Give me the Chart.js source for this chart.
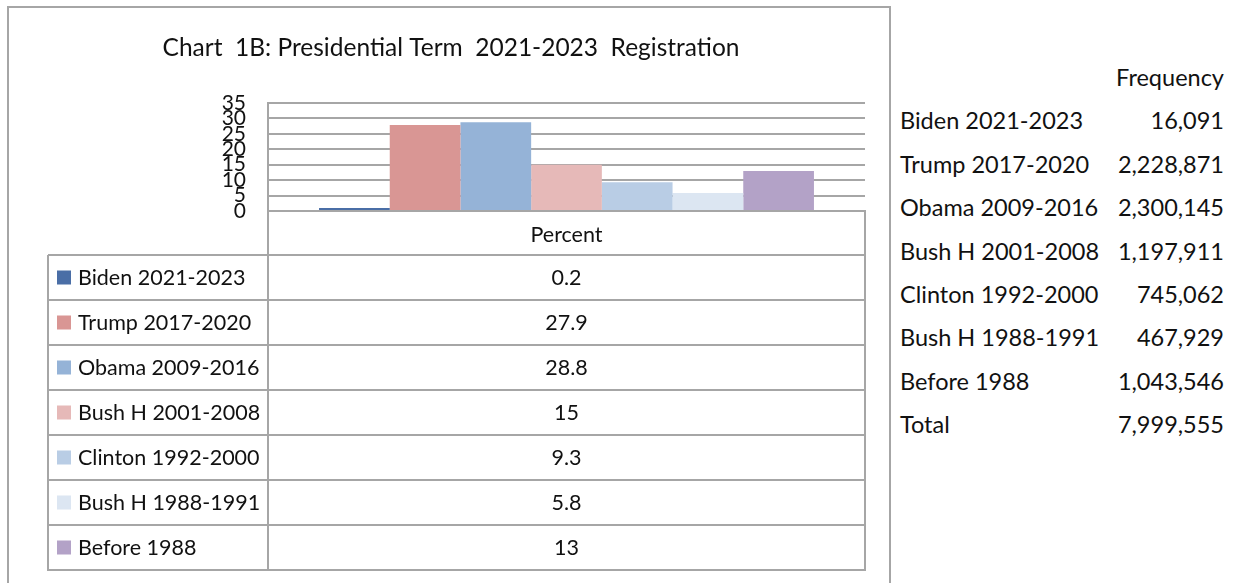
<!DOCTYPE html>
<html>
<head>
<meta charset="utf-8">
<script src="https://cdn.jsdelivr.net/npm/chart.js@4.4.1/dist/chart.umd.min.js"></script>
<style>
  html, body { margin: 0; padding: 0; background: #ffffff; width: 1235px; height: 583px; overflow: hidden; font-family: Lato, "Noto Sans", sans-serif; }
  #frame { position: absolute; left: 7px; top: 6px; width: 884px; height: 640px; border: 2px solid #a6a6a6; box-sizing: border-box; }
  #wrap { position: absolute; left: 0; top: 0; width: 900px; height: 583px; }
  #freq { position: absolute; left: 900px; top: 56px; width: 324px; font-size: 23.5px; color: #111; border-collapse: collapse; }
  #freq td { padding: 0; height: 43.4px; line-height: 43.4px; white-space: nowrap; }
  #freq td.v { text-align: right; }
</style>
</head>
<body>
<div id="frame"></div>
<div id="wrap"><canvas id="c" width="900" height="583"></canvas></div>
<table id="freq"></table>
<script>
// ---- data ----
const titleText = 'Chart  1B: Presidential Term  2021-2023  Registration';
const categories = ['Biden 2021-2023', 'Trump 2017-2020', 'Obama 2009-2016', 'Bush H 2001-2008', 'Clinton 1992-2000', 'Bush H 1988-1991', 'Before 1988'];
const percents = [0.2, 27.9, 28.8, 15, 9.3, 5.8, 13];
const frequencies = ['16,091', '2,228,871', '2,300,145', '1,197,911', '745,062', '467,929', '1,043,546'];
const totalLabel = 'Total';
const totalFrequency = '7,999,555';
const frequencyHeader = 'Frequency';
const xLabels = ['Percent'];
const yMin = 0, yMax = 35, yStep = 5;
const colors = ['#4a6ea6', '#d99694', '#95b3d7', '#e6b9b8', '#b9cde5', '#dce6f2', '#b3a2c7'];

// ---- right-hand frequency table (HTML text) ----
const tbl = document.getElementById('freq');
function addRow(a, b) {
  const tr = document.createElement('tr');
  const t1 = document.createElement('td'); t1.textContent = a;
  const t2 = document.createElement('td'); t2.textContent = b; t2.className = 'v';
  tr.appendChild(t1); tr.appendChild(t2); tbl.appendChild(tr);
}
addRow('', frequencyHeader);
categories.forEach((c, i) => addRow(c, frequencies[i]));
addRow(totalLabel, totalFrequency);

// ---- chart ----
const GRID = '#a6a6a6';
const HEADER_H = 44;
const ROW_H = 45;
const TABLE_LEFT = 48;

const dataTablePlugin = {
  id: 'dataTable',
  afterDraw(chart) {
    const { ctx, chartArea: ca } = chart;
    const n = chart.data.datasets.length;
    const headerBottom = ca.bottom + HEADER_H;
    const tableBottom = headerBottom + n * ROW_H;
    ctx.save();
    ctx.strokeStyle = GRID;
    ctx.lineWidth = 2;
    ctx.beginPath();
    ctx.moveTo(ca.left, ca.bottom); ctx.lineTo(ca.right + 1, ca.bottom);
    for (let i = 0; i <= n; i++) {
      const y = headerBottom + i * ROW_H;
      ctx.moveTo(TABLE_LEFT, y); ctx.lineTo(ca.right + 1, y);
    }
    ctx.moveTo(ca.left, ca.bottom); ctx.lineTo(ca.left, tableBottom + 1);
    ctx.moveTo(ca.right, ca.bottom); ctx.lineTo(ca.right, tableBottom + 1);
    ctx.moveTo(TABLE_LEFT, headerBottom); ctx.lineTo(TABLE_LEFT, tableBottom + 1);
    ctx.stroke();

    ctx.font = '21.5px Lato';
    ctx.textBaseline = 'middle';
    chart.data.datasets.forEach((ds, i) => {
      const cy = headerBottom + i * ROW_H + ROW_H / 2;
      ctx.fillStyle = ds.backgroundColor;
      ctx.fillRect(TABLE_LEFT + 9, cy - 7, 14, 14);
      ctx.fillStyle = '#111';
      ctx.textAlign = 'left';
      ctx.fillText(ds.label, TABLE_LEFT + 30, cy + 1);
      ctx.textAlign = 'center';
      ctx.fillText(String(ds.data[0]), (ca.left + ca.right) / 2, cy + 1);
    });
    ctx.restore();
  }
};

new Chart(document.getElementById('c'), {
  type: 'bar',
  data: {
    labels: xLabels,
    datasets: categories.map((c, i) => ({
      label: c,
      data: [percents[i]],
      backgroundColor: colors[i],
      borderWidth: 0,
      minBarLength: 3,
      categoryPercentage: 0.829,
      barPercentage: 1
    }))
  },
  options: {
    responsive: false,
    animation: false,
    devicePixelRatio: 1,
    layout: { padding: { left: 37, right: 35, top: 0, bottom: 328 } },
    plugins: {
      legend: { display: false },
      tooltip: { enabled: false },
      title: {
        display: true,
        text: titleText,
        color: '#111',
        font: { family: 'Lato', size: 24.5, weight: 'normal' },
        padding: { top: 33, bottom: 40.6 }
      }
    },
    scales: {
      x: {
        grid: { display: false, drawTicks: false },
        border: { display: false },
        ticks: { color: '#111', font: { family: 'Lato', size: 21.5 }, padding: 11 },
        afterFit: s => { s.height = HEADER_H; }
      },
      y: {
        min: yMin, max: yMax,
        grid: { color: GRID, lineWidth: 2, drawTicks: false },
        border: { display: true, color: GRID, width: 2 },
        ticks: { stepSize: yStep, autoSkip: false, color: '#111', font: { family: 'Lato', size: 21 }, padding: 22 },
        afterFit: s => { s.width = 231; }
      }
    }
  },
  plugins: [dataTablePlugin]
});
</script>
</body>
</html>
